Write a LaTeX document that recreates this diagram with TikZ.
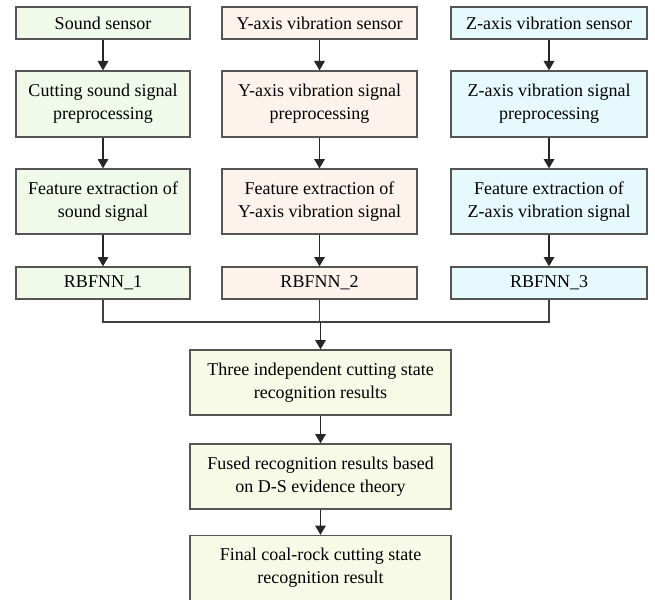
\documentclass[tikz,border=0pt]{standalone}
\usepackage{fontspec}
\setmainfont{Liberation Serif}
\usetikzlibrary{arrows.meta}
\definecolor{cgreen}{HTML}{F0F9EA}
\definecolor{csalmon}{HTML}{FDF3EC}
\definecolor{ccyan}{HTML}{E6FAFD}
\definecolor{cyellow}{HTML}{F7FAE6}
\definecolor{cborder}{HTML}{555555}
\begin{document}
\begin{tikzpicture}[x=0.75pt,y=-0.75pt,
  box/.style={draw=cborder,line width=1pt,inner sep=0pt,align=center,font=\fontsize{13.5}{17}\selectfont},
  arr/.style={-{Triangle[length=7pt,width=8pt]},line width=0.9pt,draw=black!85},
  ln/.style={line width=0.9pt,draw=black!75}]
\useasboundingbox (0,0) rectangle (655,599);
\clip (0,0) rectangle (655,599);
% column 1
\node[box,fill=cgreen,minimum width=174*0.75pt,minimum height=32*0.75pt] (a1) at (103,23) {Sound sensor};
\node[box,fill=cgreen,minimum width=174*0.75pt,minimum height=66*0.75pt] (a2) at (103,104) {Cutting sound signal\\preprocessing};
\node[box,fill=cgreen,minimum width=174*0.75pt,minimum height=65*0.75pt] (a3) at (103,201.5) {Feature extraction of\\sound signal};
\node[box,fill=cgreen,minimum width=174*0.75pt,minimum height=32*0.75pt] (a4) at (103,283) {RBFNN\_1};
% column 2
\node[box,fill=csalmon,minimum width=195*0.75pt,minimum height=32*0.75pt] (b1) at (319.5,23) {Y-axis vibration sensor};
\node[box,fill=csalmon,minimum width=195*0.75pt,minimum height=66*0.75pt] (b2) at (319.5,104) {Y-axis vibration signal\\preprocessing};
\node[box,fill=csalmon,minimum width=195*0.75pt,minimum height=65*0.75pt] (b3) at (319.5,201.5) {Feature extraction of\\Y-axis vibration signal};
\node[box,fill=csalmon,minimum width=195*0.75pt,minimum height=32*0.75pt] (b4) at (319.5,283) {RBFNN\_2};
% column 3
\node[box,fill=ccyan,minimum width=196*0.75pt,minimum height=32*0.75pt] (c1) at (549,23) {Z-axis vibration sensor};
\node[box,fill=ccyan,minimum width=196*0.75pt,minimum height=66*0.75pt] (c2) at (549,104) {Z-axis vibration signal\\preprocessing};
\node[box,fill=ccyan,minimum width=196*0.75pt,minimum height=65*0.75pt] (c3) at (549,201.5) {Feature extraction of\\Z-axis vibration signal};
\node[box,fill=ccyan,minimum width=196*0.75pt,minimum height=32*0.75pt] (c4) at (549,283) {RBFNN\_3};
% bottom
\node[box,fill=cyellow,minimum width=261*0.75pt,minimum height=65*0.75pt] (d1) at (320.5,382.5) {Three independent cutting state\\recognition results};
\node[box,fill=cyellow,minimum width=261*0.75pt,minimum height=65*0.75pt] (d2) at (320.5,476.5) {Fused recognition results based\\on D-S evidence theory};
\node[box,fill=cyellow,minimum width=261*0.75pt,minimum height=65*0.75pt] (d3) at (320.5,568) {Final coal-rock cutting state\\recognition result};
\coordinate (m) at (320.5,322);
\foreach \p/\q in {a1/a2,a2/a3,a3/a4,b1/b2,b2/b3,b3/b4,c1/c2,c2/c3,c3/c4,d1/d2,d2/d3}
  \draw[arr] (\p.south) -- (\q.north);
\draw[ln] (a4.south) |- (m) -| (c4.south);
\draw[ln] (b4.south) -- (b4.south |- m);
\draw[arr] (m) -- (d1.north);
\end{tikzpicture}
\end{document}
